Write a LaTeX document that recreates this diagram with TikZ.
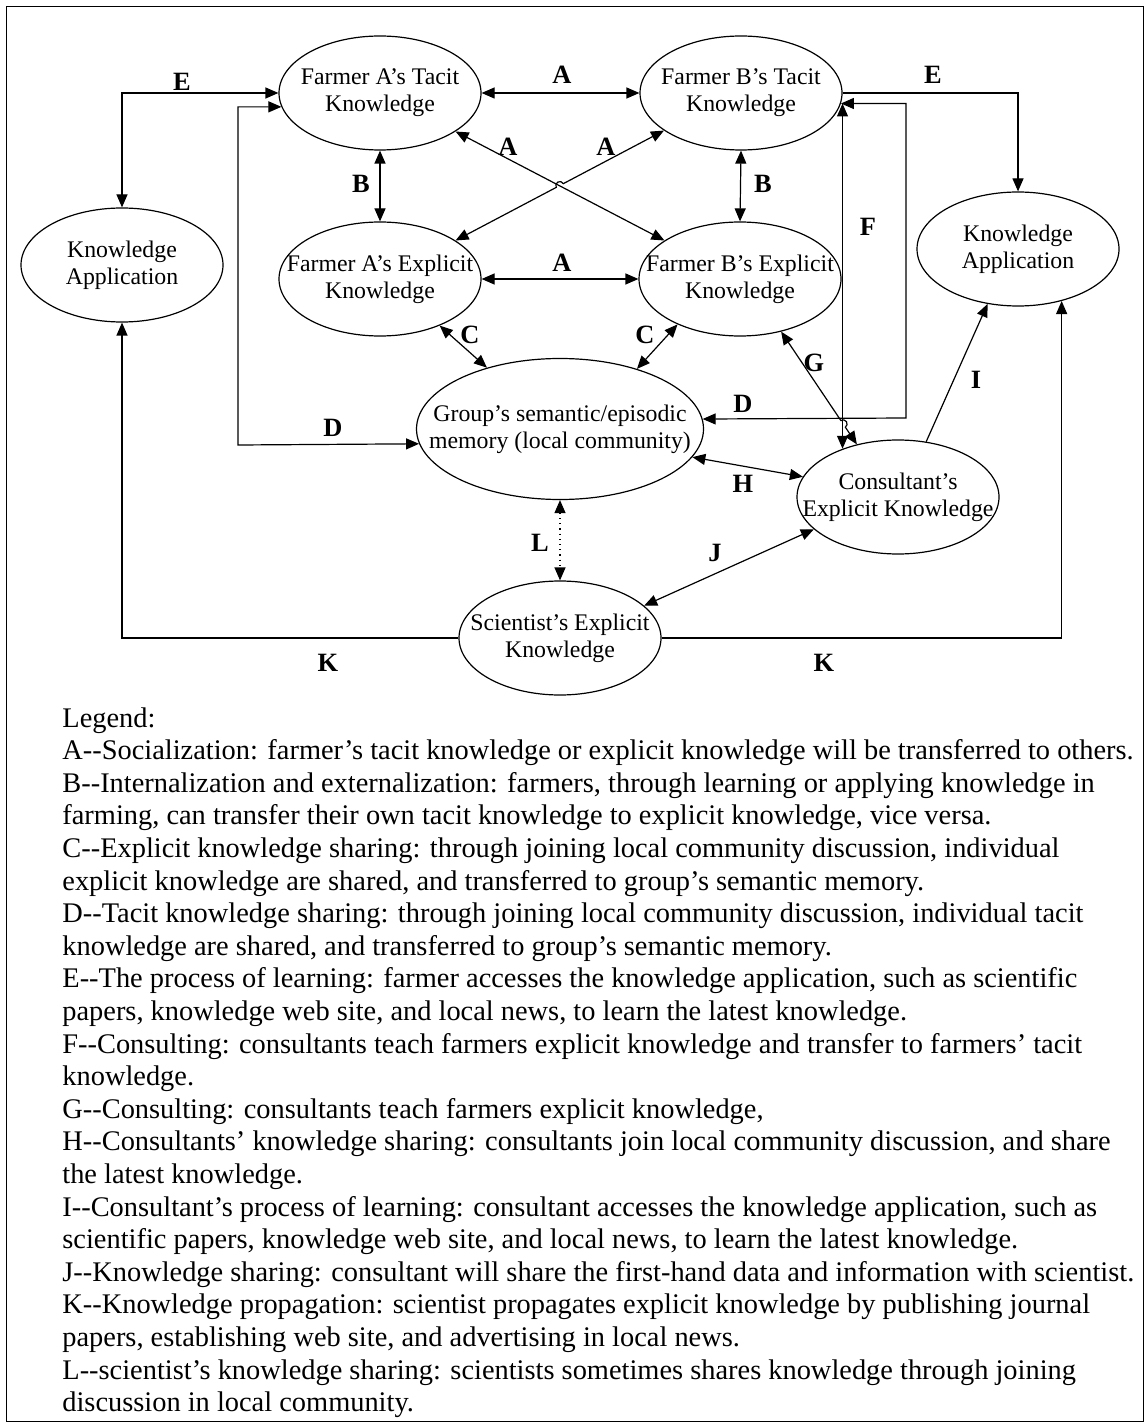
\documentclass[tikz,border=0pt]{standalone}
\usepackage{fontspec}
\setmainfont{Liberation Serif}
\usetikzlibrary{arrows.meta,shapes.geometric,calc}
% two separate hyphens (no en-dash ligature)
\newcommand{\dd}{-\kern0pt-}
\begin{document}
\begin{tikzpicture}[x=0.5pt,y=-0.5pt,
  >={Triangle[length=6.5pt,width=5.5pt]},
  know/.style={draw,ellipse,line width=0.6pt,inner xsep=-30pt,inner ysep=-8pt,
    minimum width=101pt,minimum height=57pt,align=center,
    font=\fontsize{11.9}{13.6}\selectfont},
  tag/.style={font=\fontsize{13.2}{14}\selectfont\bfseries,inner sep=0pt},
  flow/.style={line width=0.6pt}]

\useasboundingbox (0,0) rectangle (1145,1427);
\draw[line width=0.5pt] (6,7) rectangle (1143,1421);

% knowledge stores
\node[know] (fat) at (380,93)  {Farmer A’s Tacit\\Knowledge};
\node[know] (fbt) at (741,93)  {Farmer B’s Tacit\\Knowledge};
\node[know] (fae) at (380,279) {Farmer A’s Explicit\\Knowledge};
\node[know] (fbe) at (740,279) {Farmer B’s Explicit\\Knowledge};
\node[know] (kal) at (122,265) {Knowledge\\Application};
\node[know] (kar) at (1018,249) {Knowledge\\Application};
\node[know,minimum width=143.5pt,minimum height=70.5pt] (grp) at (560,429)
  {Group’s semantic/episodic\\memory (local community)};
\node[know] (con) at (898,497) {Consultant’s\\Explicit Knowledge};
\node[know] (sci) at (560,638) {Scientist’s Explicit\\Knowledge};

% A: socialization
\draw[flow,<->] (fat.east) -- (fbt.west);
\draw[flow,<->] (fae.east) -- (fbe.west);
\draw[flow,<->] (fat.-27) -- (fbe.153);
\draw[flow,<->] (fae.27) -- ($(fae.27)!0.483!(fbt.206)$)
  arc[start angle=207.8,end angle=27.8,radius=2pt] -- (fbt.206);
% B: internalization / externalization
\draw[flow,<->] (fat.south) -- (fae.north);
\draw[flow,<->] (fbt.south) -- (fbe.north);
% E: learning
\draw[flow,<->] (fat.west) -| (kal.north);
\draw[flow,->] (fbt.east) -| (kar.north);
% D: tacit knowledge sharing
\coordinate (dl) at (238,445);
\coordinate (dr) at (906,418);
\draw[flow,<->] (fat.188.5) -| (dl) -- (grp.186.6);
\draw[flow,<->] (fbt.-6) -| (dr) -- (grp.4.5);
% F: consulting (to tacit)
\draw[flow,<->] (con.139) -- (con.139 |- fbt.-6);
% G: consulting (to explicit)
\draw[flow,<->] (fbe.-52.5) -- ($(fbe.-52.5)!0.789!(con.128.3)$)
  arc[start angle=124,end angle=-56,radius=2pt] -- (con.128.3);
% C: explicit knowledge sharing
\draw[flow,<->] (fae.-38.8) -- (grp.140.6);
\draw[flow,<->] (fbe.216.5) -- (grp.38.3);
% H, I, J, L, K
\draw[flow,<->] (grp.-12) -- (con.168.6);
\draw[flow,->] (con.63.8) -- (kar.241.1);
\draw[flow,<->] (sci.21.7) -- (con.201);
\draw[flow,<->,dotted] (grp.south) -- (sci.north);
\draw[flow,->] (sci.west) -| (kal.south);
\draw[flow,->] (sci.east) -| (kar.-50.2);

% connector letters
\node[tag] (lA1) at (562,75)  {A};
\node[tag] (lA2) at (562,263) {A};
\node[tag] (lA3) at (508,147) {A};
\node[tag] (lA4) at (606,147) {A};
\node[tag] (lB1) at (361,184) {B};
\node[tag] (lB2) at (763,184) {B};
\node[tag] (lE1) at (182,82)  {E};
\node[tag] (lE2) at (933,75)  {E};
\node[tag] (lC1) at (470,335) {C};
\node[tag] (lC2) at (645,335) {C};
\node[tag] (lD1) at (333,428) {D};
\node[tag] (lD2) at (743,404) {D};
\node[tag] (lF)  at (868,227) {F};
\node[tag] (lG)  at (814,363) {G};
\node[tag] (lH)  at (743,484) {H};
\node[tag] (lI)  at (976,380) {I};
\node[tag] (lJ)  at (715,553) {J};
\node[tag] (lL)  at (540,543) {L};
\node[tag] (lK1) at (328,663) {K};
\node[tag] (lK2) at (824,663) {K};

% legend
\node[anchor=north west,align=left,inner sep=0pt,
  font=\fontsize{14.2}{16.3}\selectfont] (legend) at (62,707) {%
Legend:\\
A\dd Socialization: farmer’s tacit knowledge or explicit knowledge will be transferred to others.\\
B\dd Internalization and externalization: farmers, through learning or applying knowledge in\\
farming, can transfer their own tacit knowledge to explicit knowledge, vice versa.\\
C\dd Explicit knowledge sharing: through joining local community discussion, individual\\
explicit knowledge are shared, and transferred to group’s semantic memory.\\
D\dd Tacit knowledge sharing: through joining local community discussion, individual tacit\\
knowledge are shared, and transferred to group’s semantic memory.\\
E\dd The process of learning: farmer accesses the knowledge application, such as scientific\\
papers, knowledge web site, and local news, to learn the latest knowledge.\\
F\dd Consulting: consultants teach farmers explicit knowledge and transfer to farmers’ tacit\\
knowledge.\\
G\dd Consulting: consultants teach farmers explicit knowledge,\\
H\dd Consultants’ knowledge sharing: consultants join local community discussion, and share\\
the latest knowledge.\\
I\dd Consultant’s process of learning: consultant accesses the knowledge application, such as\\
scientific papers, knowledge web site, and local news, to learn the latest knowledge.\\
J\dd Knowledge sharing: consultant will share the first-hand data and information with scientist.\\
K\dd Knowledge propagation: scientist propagates explicit knowledge by publishing journal\\
papers, establishing web site, and advertising in local news.\\
L\dd scientist’s knowledge sharing: scientists sometimes shares knowledge through joining\\
discussion in local community.};
\end{tikzpicture}
\end{document}
